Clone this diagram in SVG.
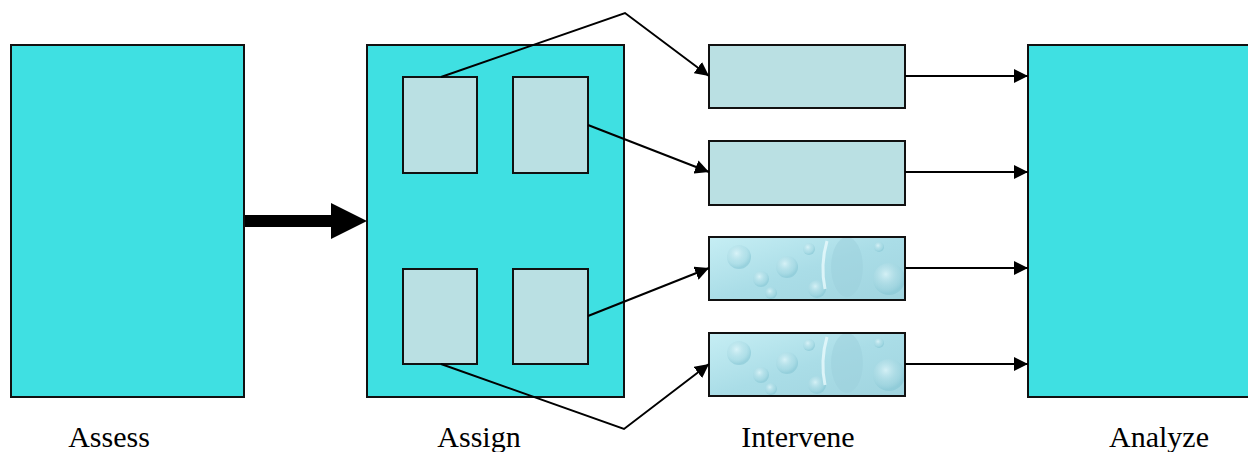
<svg xmlns="http://www.w3.org/2000/svg" width="1248" height="452" viewBox="0 0 1248 452">
<style>
.big{fill:#3fe0e2;stroke:#111;stroke-width:2}
.lt{fill:#bae0e3;stroke:#111;stroke-width:2}
.tx{fill:url(#water);stroke:#111;stroke-width:2}
.con{fill:none;stroke:#000;stroke-width:2}
.lbl{font-family:"Liberation Serif","Times New Roman",serif;font-size:30px;fill:#000;text-anchor:middle}
</style>
<defs>
<marker id="ah" markerWidth="14" markerHeight="14" refX="14" refY="7" orient="auto" markerUnits="userSpaceOnUse">
<path d="M0,0 L14,7 L0,14 Z" fill="#000"/>
</marker>
<linearGradient id="wg" x1="0" y1="0" x2="1" y2="1">
<stop offset="0" stop-color="#c6eef4"/>
<stop offset="0.5" stop-color="#aadde7"/>
<stop offset="1" stop-color="#a0d4df"/>
</linearGradient>
<radialGradient id="bub" cx="0.4" cy="0.35" r="0.6">
<stop offset="0" stop-color="#e0f6fa" stop-opacity="0.8"/>
<stop offset="0.7" stop-color="#a6d8e2" stop-opacity="0.4"/>
<stop offset="1" stop-color="#86c6d4" stop-opacity="0.6"/>
</radialGradient>
<pattern id="water" patternUnits="objectBoundingBox" x="0" y="0" width="1" height="1">
<rect width="196" height="64" fill="url(#wg)"/>
<circle cx="30" cy="20" r="12" fill="url(#bub)"/>
<circle cx="52" cy="42" r="8" fill="url(#bub)"/>
<circle cx="78" cy="30" r="11" fill="url(#bub)"/>
<circle cx="62" cy="56" r="6" fill="url(#bub)"/>
<circle cx="108" cy="52" r="9" fill="url(#bub)"/>
<ellipse cx="138" cy="30" rx="16" ry="30" fill="#9ccfdc" opacity="0.5"/>
<path d="M118,4 Q111,28 116,52" stroke="#e8fafd" stroke-width="3" fill="none" opacity="0.8"/>
<circle cx="180" cy="42" r="16" fill="url(#bub)"/>
<circle cx="100" cy="12" r="6" fill="url(#bub)"/>
<circle cx="170" cy="10" r="5" fill="url(#bub)"/>
</pattern>
</defs>

<g id="assess">
<rect class="big" x="11" y="45" width="233" height="352"/>
<text class="lbl" x="109" y="447">Assess</text>
</g>

<g id="assign">
<rect class="big" x="367" y="45" width="257" height="352"/>
<text class="lbl" x="479" y="447">Assign</text>
</g>

<g id="assign-box-1"><rect class="lt" x="403" y="77" width="74" height="96"/></g>
<g id="assign-box-2"><rect class="lt" x="513" y="77" width="75" height="96"/></g>
<g id="assign-box-3"><rect class="lt" x="403" y="269" width="74" height="95"/></g>
<g id="assign-box-4"><rect class="lt" x="513" y="269" width="75" height="95"/></g>

<g id="intervene-1"><rect class="lt" x="709" y="45" width="196" height="63"/></g>
<g id="intervene-2"><rect class="lt" x="709" y="141" width="196" height="64"/></g>
<g id="intervene-3"><rect class="tx" x="709" y="237" width="196" height="63"/></g>
<g id="intervene-4"><rect class="tx" x="709" y="333" width="196" height="63"/></g>
<g id="intervene-label"><text class="lbl" x="798" y="447">Intervene</text></g>

<g id="analyze">
<rect class="big" x="1028" y="45" width="224" height="352"/>
<text class="lbl" x="1159" y="447">Analyze</text>
</g>

<g id="connectors">
<path class="con" d="M441,77 L625,13 L709,76" marker-end="url(#ah)"/>
<path class="con" d="M588,125 L709,172" marker-end="url(#ah)"/>
<path class="con" d="M588,316 L709,268" marker-end="url(#ah)"/>
<path class="con" d="M441,364 L624,429 L709,364" marker-end="url(#ah)"/>
<path class="con" d="M905,76 L1028,76" marker-end="url(#ah)"/>
<path class="con" d="M905,172 L1028,172" marker-end="url(#ah)"/>
<path class="con" d="M905,268 L1028,268" marker-end="url(#ah)"/>
<path class="con" d="M905,364 L1028,364" marker-end="url(#ah)"/>
<path d="M245,215 L331,215 L331,203 L367,221 L331,239 L331,227 L245,227 Z" fill="#000"/>
</g>
</svg>
